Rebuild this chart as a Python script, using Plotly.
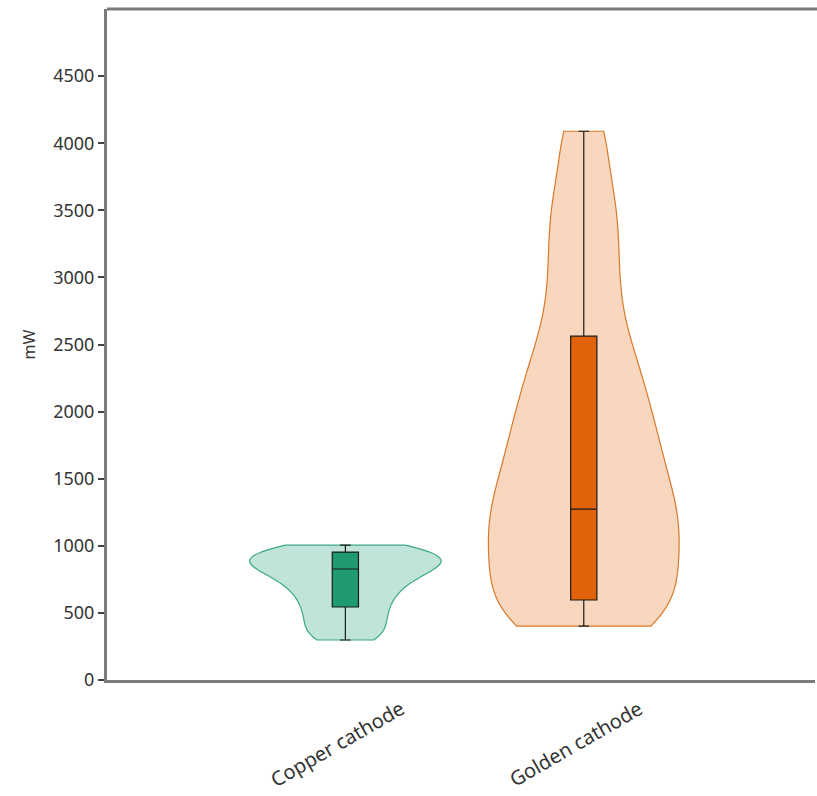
import plotly.graph_objects as go

# Categories and measured power output (mW)
categories = ["Copper cathode", "Golden cathode"]

copper_samples = [298, 350, 420, 480, 540, 600, 650, 700, 740, 780, 810, 840,
                  865, 890, 910, 930, 955, 980, 1005]
golden_samples = [402, 430, 520, 640, 760, 880, 1000, 1100, 1200, 1300, 1420,
                  1550, 1680, 1820, 1960, 2120, 2300, 2480, 2750, 3050, 3350,
                  3650, 4089]

# Box summary statistics per category
box_min = [298, 402]
box_q1 = [544, 596]
box_median = [827, 1274]
box_q3 = [953, 2562]
box_max = [1005, 4089]

y_ticks = [0, 500, 1000, 1500, 2000, 2500, 3000, 3500, 4000, 4500]

violin_fill = ["rgba(27,158,119,0.28)", "rgba(230,110,20,0.28)"]
violin_line = ["#3aa886", "#d9792a"]
box_fill = ["#1f9a72", "#e0620a"]

fig = go.Figure()

samples = [copper_samples, golden_samples]
bandwidths = [80, 280]
for i, cat in enumerate(categories):
    fig.add_trace(go.Violin(
        x=[cat] * len(samples[i]),
        y=samples[i],
        name=cat,
        spanmode="hard",
        bandwidth=bandwidths[i],
        width=0.8,
        scalemode="width",
        points=False,
        box_visible=False,
        meanline_visible=False,
        fillcolor=violin_fill[i],
        line=dict(color=violin_line[i], width=1.2),
        hoverinfo="skip",
        showlegend=False,
    ))

for i, cat in enumerate(categories):
    fig.add_trace(go.Box(
        x=[cat],
        q1=[box_q1[i]],
        median=[box_median[i]],
        q3=[box_q3[i]],
        lowerfence=[box_min[i]],
        upperfence=[box_max[i]],
        width=0.11,
        whiskerwidth=0.4,
        fillcolor=box_fill[i],
        line=dict(color="#1a1a1a", width=1.2),
        boxpoints=False,
        showlegend=False,
    ))

axis_color = "#7a7a7a"
fig.update_layout(
    width=817,
    height=796,
    margin=dict(l=107, r=2, t=9, b=116),
    paper_bgcolor="white",
    plot_bgcolor="white",
    violinmode="overlay",
    boxmode="overlay",
    font=dict(family="Noto Sans, Open Sans, sans-serif", size=17, color="#333333"),
    showlegend=False,
    xaxis=dict(
        type="category",
        range=[-1, 1.97],
        showticklabels=False,
        ticks="",
        showline=True,
        linecolor=axis_color,
        linewidth=3,
        showgrid=False,
        zeroline=False,
    ),
    yaxis=dict(
        range=[0, 5000],
        tickvals=y_ticks,
        ticks="outside",
        ticklen=6,
        tickwidth=2,
        tickcolor="#444444",
        showline=True,
        linecolor=axis_color,
        linewidth=3,
        showgrid=False,
        zeroline=False,
        title=dict(text="mW", standoff=14, font=dict(size=16)),
        tickfont=dict(size=18),
    ),
    shapes=[dict(type="line", xref="paper", yref="paper", x0=0, x1=1.01,
                 y0=1, y1=1, line=dict(color=axis_color, width=3))],
)

# Rotated category labels, centred under each violin
for cat in categories:
    fig.add_annotation(
        x=cat, xref="x", y=-0.094, yref="paper",
        text=cat, textangle=-30, showarrow=False,
        xanchor="center", yanchor="middle",
        xshift=-8,
        font=dict(size=20, color="#333333"),
    )

fig.write_html("out.html")
